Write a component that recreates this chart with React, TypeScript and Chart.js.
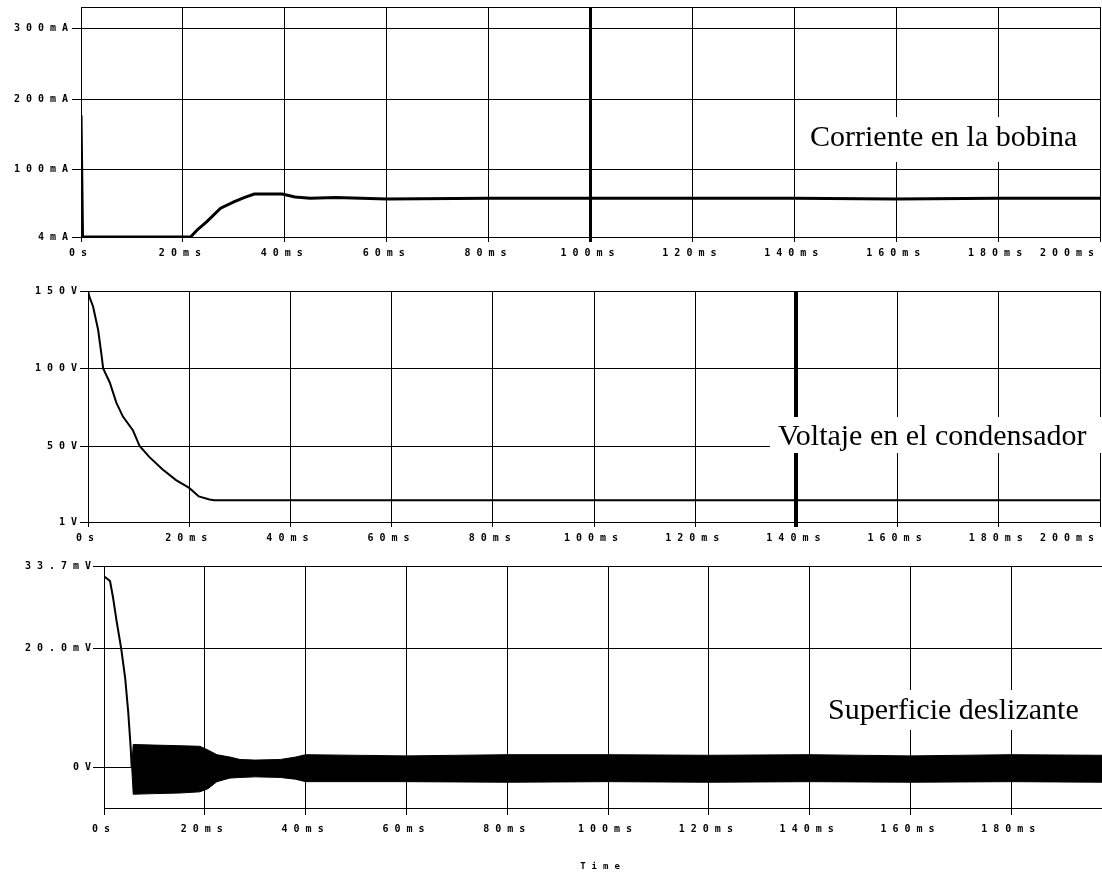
import { useEffect, useRef } from 'react';
import { Chart, registerables } from 'chart.js';

Chart.register(...registerables);

// ---------- Panel 1: Corriente en la bobina ----------
const currentTimeMs = [0, 0, 0.3, 21.5, 22.8, 24.7, 27.4, 30, 32, 34, 36, 39.5, 42, 45, 50, 60, 80, 100, 120, 140, 160, 180, 200];
const currentMA = [4, 177, 4, 4, 14, 26, 45, 54, 60, 65, 65, 65, 61, 59, 60, 58, 59, 59, 59, 59, 58, 59, 59];
const currentXTicks = [0, 20, 40, 60, 80, 100, 120, 140, 160, 180, 200];
const currentXLabels = ['0s', '20ms', '40ms', '60ms', '80ms', '100ms', '120ms', '140ms', '160ms', '180ms', '200ms'];
const currentYTicks = [4, 100, 200, 300];
const currentYLabels = ['4mA', '100mA', '200mA', '300mA'];

// ---------- Panel 2: Voltaje en el condensador ----------
const voltTimeMs = [0, 0, 0.3, 1, 2, 2.7, 3, 4.3, 5.6, 6.9, 8.9, 10.2, 12.1, 14.7, 17.4, 20, 21.9, 24, 25, 40, 60, 80, 100, 120, 140, 160, 180, 200];
const voltV = [1, 150, 146, 140, 125, 108, 100, 91, 78, 69, 60, 50, 43, 35, 28, 23, 17.5, 15.5, 15, 15, 15, 15, 15, 15, 15, 15, 15, 15];
const voltXTicks = [0, 20, 40, 60, 80, 100, 120, 140, 160, 180, 200];
const voltXLabels = ['0s', '20ms', '40ms', '60ms', '80ms', '100ms', '120ms', '140ms', '160ms', '180ms', '200ms'];
const voltYTicks = [1, 50, 100, 150];
const voltYLabels = ['1V', '50V', '100V', '150V'];

// ---------- Panel 3: Superficie deslizante ----------
const slideTimeMs = [0, 1.2, 1.8, 2.5, 3.4, 4.2, 4.8, 5.3, 5.5];
const slideMV = [32, 31.2, 28.4, 24.5, 20, 15, 9.4, 3.3, 0];
const bandTimeMs = [5.5, 5.8, 10, 15, 19, 20.6, 22.4, 25, 27, 30, 35, 38, 40, 60, 80, 100, 120, 140, 160, 180, 198];
const bandUpperMV = [0, 3.9, 3.8, 3.7, 3.6, 3.0, 2.2, 1.8, 1.4, 1.3, 1.4, 1.8, 2.2, 2.0, 2.2, 2.2, 2.1, 2.2, 2.0, 2.2, 2.1];
const bandLowerMV = [0, -4.4, -4.3, -4.2, -4.0, -3.5, -2.3, -1.7, -1.6, -1.5, -1.6, -1.9, -2.3, -2.3, -2.4, -2.3, -2.4, -2.3, -2.4, -2.3, -2.4];
const slideXTicks = [0, 20, 40, 60, 80, 100, 120, 140, 160, 180];
const slideXLabels = ['0s', '20ms', '40ms', '60ms', '80ms', '100ms', '120ms', '140ms', '160ms', '180ms'];
const slideYTicks = [0, 20, 33.7];
const slideYLabels = ['0V', '20.0mV', '33.7mV'];

const toXY = (xs: number[], ys: number[]) => xs.map((x, i) => ({ x, y: ys[i] }));

const tickFont = { family: 'DejaVu Sans Mono', size: 10, weight: 'bold' as const };

type PanelOpts = {
  width: number;
  height: number;
  padTop: number;
  padRight: number;
  yWidth: number;
  xHeight: number;
  xMin: number;
  xMax: number;
  yMin: number;
  yMax: number;
  xTicks: number[];
  xLabels: string[];
  yTicks: number[];
  yLabels: string[];
  thickX?: number;
  thickW?: number;
  xTickLen: number;
  xPad: number;
  yTickLen: number;
  yPad: number;
  lastLabelShift?: number;
  datasets: any[];
  label: { text: string; box: [number, number, number, number]; x: number; y: number };
  frameTop?: boolean;
  xTitle?: string;
};

function buildConfig(p: PanelOpts): any {
  const labelPlugin = {
    id: 'panelLabel',
    beforeDraw(chart: any) {
      chart.ctx.letterSpacing = '6px';
    },
    afterDraw(chart: any) {
      const ctx = chart.ctx;
      ctx.save();
      ctx.letterSpacing = '0px';
      if (p.frameTop) {
        const a = chart.chartArea;
        ctx.strokeStyle = '#000';
        ctx.lineWidth = 1;
        ctx.beginPath();
        ctx.moveTo(a.left, Math.round(a.top) + 0.5);
        ctx.lineTo(a.right, Math.round(a.top) + 0.5);
        ctx.stroke();
      }
      const [bx, by, bw, bh] = p.label.box;
      ctx.fillStyle = '#fff';
      ctx.fillRect(bx, by, bw, bh);
      ctx.fillStyle = '#000';
      ctx.font = '30px "Liberation Serif"';
      ctx.textAlign = 'left';
      ctx.textBaseline = 'alphabetic';
      ctx.fillText(p.label.text, p.label.x, p.label.y);
      ctx.restore();
    },
  };
  return {
    type: 'line',
    data: { datasets: p.datasets },
    options: {
      responsive: false,
      animation: false,
      devicePixelRatio: 1,
      layout: { padding: { top: p.padTop, right: p.padRight, left: 0, bottom: 0 } },
      plugins: { legend: { display: false }, tooltip: { enabled: false } },
      elements: { point: { radius: 0 }, line: { tension: 0 } },
      scales: {
        x: {
          type: 'linear',
          min: p.xMin,
          max: p.xMax,
          afterBuildTicks: (s: any) => {
            s.ticks = p.xTicks.map((v) => ({ value: v }));
          },
          afterFit: (s: any) => {
            s.height = p.xHeight;
            s.paddingLeft = 0;
            s.paddingRight = 0;
          },
          ticks: {
            autoSkip: false,
            maxRotation: 0,
            minRotation: 0,
            color: '#000',
            font: tickFont,
            padding: p.xPad,
            callback: (v: number) => {
              const i = p.xTicks.indexOf(v);
              if (i < 0) return '';
              // keep the last label inside the canvas (as in the original plot)
              if (p.lastLabelShift && i === p.xTicks.length - 1) {
                return p.xLabels[i] + ' '.repeat(p.lastLabelShift);
              }
              return p.xLabels[i];
            },
          },
          grid: {
            color: '#000',
            lineWidth: (c: any) => (p.thickX !== undefined && c.tick && c.tick.value === p.thickX ? p.thickW : 1),
            tickLength: p.xTickLen,
            drawTicks: true,
          },
          border: { display: true, color: '#000', width: 1 },
          title: p.xTitle
            ? { display: true, text: p.xTitle, color: '#000', font: { family: 'DejaVu Sans Mono', size: 9, weight: 'bold' }, padding: { top: 0, bottom: 3 } }
            : { display: false },
        },
        y: {
          type: 'linear',
          min: p.yMin,
          max: p.yMax,
          afterBuildTicks: (s: any) => {
            s.ticks = p.yTicks.map((v) => ({ value: v }));
          },
          afterFit: (s: any) => {
            s.width = p.yWidth;
            s.paddingTop = 0;
            s.paddingBottom = 0;
          },
          ticks: {
            autoSkip: false,
            color: '#000',
            font: tickFont,
            padding: p.yPad,
            callback: (v: number) => {
              const i = p.yTicks.indexOf(v);
              return i >= 0 ? p.yLabels[i] : '';
            },
          },
          grid: { color: '#000', lineWidth: 1, tickLength: p.yTickLen, drawTicks: true },
          border: { display: true, color: '#000', width: 1 },
        },
      },
    },
    plugins: [labelPlugin],
  };
}

function Panel({ top, opts }: { top: number; opts: PanelOpts }) {
  const ref = useRef<HTMLCanvasElement | null>(null);
  useEffect(() => {
    if (!ref.current) return;
    const chart = new Chart(ref.current, buildConfig(opts));
    return () => chart.destroy();
  }, []);
  return (
    <canvas
      ref={ref}
      width={opts.width}
      height={opts.height}
      style={{ position: 'absolute', left: 0, top, width: opts.width, height: opts.height, display: 'block' }}
    />
  );
}

const panel1: PanelOpts = {
  width: 1102,
  height: 270,
  padTop: 7,
  padRight: 2,
  yWidth: 81,
  xHeight: 33,
  xMin: 0,
  xMax: 200,
  yMin: 4,
  yMax: 331,
  xTicks: currentXTicks,
  xLabels: currentXLabels,
  yTicks: currentYTicks,
  yLabels: currentYLabels,
  thickX: 100,
  thickW: 3,
  xTickLen: 5,
  xPad: 5,
  yTickLen: 9,
  yPad: -2,
  lastLabelShift: 5,
  frameTop: true,
  datasets: [
    { data: toXY(currentTimeMs, currentMA), borderColor: '#000', borderWidth: 3, fill: false },
  ],
  label: { text: 'Corriente en la bobina', box: [800, 117, 293, 45], x: 810, y: 146 },
};

const panel2: PanelOpts = {
  width: 1102,
  height: 275,
  padTop: 21,
  padRight: 2,
  yWidth: 88,
  xHeight: 23,
  xMin: 0,
  xMax: 200,
  yMin: 1,
  yMax: 150,
  xTicks: voltXTicks,
  xLabels: voltXLabels,
  yTicks: voltYTicks,
  yLabels: voltYLabels,
  thickX: 140,
  thickW: 4,
  xTickLen: 5,
  xPad: 5,
  yTickLen: 8,
  yPad: -3,
  lastLabelShift: 5,
  datasets: [
    { data: toXY(voltTimeMs, voltV), borderColor: '#000', borderWidth: 2, fill: false },
  ],
  label: { text: 'Voltaje en el condensador', box: [770, 147, 332, 36], x: 778, y: 175 },
};

const panel3: PanelOpts = {
  width: 1102,
  height: 330,
  padTop: 21,
  padRight: 0,
  yWidth: 104,
  xHeight: 67,
  xMin: 0,
  xMax: 198,
  yMin: -6.7,
  yMax: 33.7,
  xTicks: slideXTicks,
  xLabels: slideXLabels,
  yTicks: slideYTicks,
  yLabels: slideYLabels,
  xTickLen: 7,
  xPad: 8,
  yTickLen: 11,
  yPad: -4,
  xTitle: 'Time',
  datasets: [
    { data: toXY(slideTimeMs, slideMV), borderColor: '#000', borderWidth: 2, fill: false },
    { data: toXY(bandTimeMs, bandUpperMV), borderColor: '#000', borderWidth: 1, fill: false },
    { data: toXY(bandTimeMs, bandLowerMV), borderColor: '#000', borderWidth: 1, fill: '-1', backgroundColor: '#000' },
  ],
  label: { text: 'Superficie deslizante', box: [815, 145, 280, 40], x: 828, y: 174 },
};

export default function App() {
  return (
    <div
      style={{
        position: 'fixed',
        left: 0,
        top: 0,
        width: 1102,
        height: 875,
        background: '#fff',
        overflow: 'hidden',
      }}
    >
      <Panel top={0} opts={panel1} />
      <Panel top={270} opts={panel2} />
      <Panel top={545} opts={panel3} />
    </div>
  );
}
